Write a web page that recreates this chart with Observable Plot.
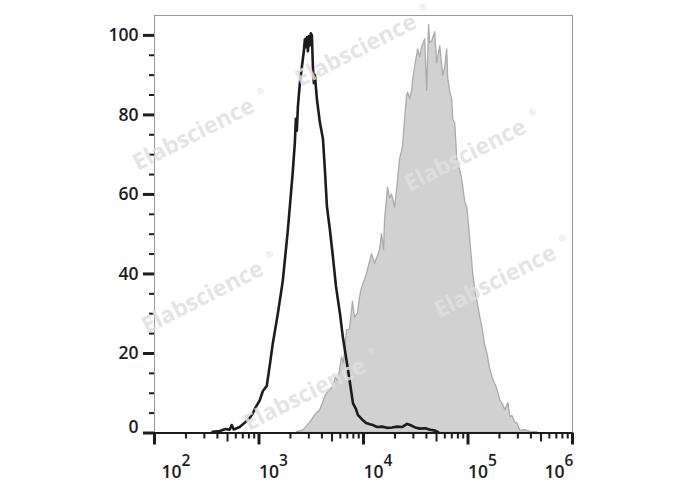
<!DOCTYPE html>
<html><head><meta charset="utf-8">
<script src="https://cdn.jsdelivr.net/npm/d3@7"></script>
<script src="https://cdn.jsdelivr.net/npm/@observablehq/plot@0.6"></script>
<style>body{margin:0;background:#fff;}</style>
</head><body><div id="chart"></div>
<script>
// Control (black outline) histogram: log10 fluorescence and % of max
const controlLog10 = [2.556,2.624,2.681,2.719,2.739,2.758,2.815,2.873,2.911,2.940,
  2.969,3.007,3.036,3.074,3.103,3.132,3.161,3.180,3.209,3.228,
  3.257,3.276,3.305,3.324,3.343,3.353,3.362,3.372,3.391,3.410,
  3.429,3.439,3.448,3.458,3.468,3.477,3.487,3.496,3.506,3.516,
  3.525,3.535,3.554,3.583,3.612,3.631,3.650,3.679,3.707,3.736,
  3.775,3.803,3.842,3.871,3.899,3.928,3.947,3.966,3.995,4.024,
  4.062,4.091,4.130,4.177,4.225,4.273,4.321,4.369,4.417,4.446,
  4.494,4.542,4.590,4.638,4.686,4.715];
const controlCount = [0.3,0.5,1.0,0.8,2.0,0.9,1.5,2.8,3.8,4.9,
  6.5,8.2,10.5,11.8,17,22.5,27,30,35,38.4,
  46,51,60,66,73,79,76,82,88,92,
  96,99,97,99.5,96,99.8,97.5,100.5,100,92,
  88,90,84,78,74,66,57,51,44.4,37,
  30,24,17.5,12.5,7.5,6,4.5,4,3.2,2.5,
  2.2,2,1.5,1.6,1.3,1.4,1.6,1.5,2.3,2.0,
  1.4,1.1,1.2,0.8,0.6,0.2];
// Stained sample (grey filled) histogram
const sampleLog10 = [3.362,3.420,3.458,3.496,3.525,3.554,3.583,3.612,3.640,3.669,
  3.707,3.736,3.755,3.775,3.794,3.813,3.842,3.871,3.899,3.918,
  3.947,3.966,3.986,4.014,4.034,4.062,4.082,4.110,4.139,4.158,
  4.177,4.197,4.206,4.235,4.254,4.273,4.302,4.321,4.350,4.379,
  4.398,4.417,4.427,4.446,4.465,4.475,4.494,4.523,4.542,4.561,
  4.590,4.609,4.628,4.638,4.657,4.686,4.705,4.734,4.763,4.782,
  4.801,4.811,4.830,4.849,4.859,4.878,4.897,4.926,4.945,4.974,
  4.993,5.022,5.050,5.070,5.089,5.118,5.137,5.165,5.185,5.213,
  5.242,5.281,5.309,5.338,5.357,5.386,5.405,5.424,5.453,5.472,
  5.501,5.549,5.597,5.664];
const sampleCount = [0.2,0.6,1.6,2.8,4,5,5.6,7.5,9.5,10.5,
  11.5,14,13,15.7,19,17.5,25.8,26,33,29,
  30,34,36.5,38.5,40,43,45,42.6,44.5,46,
  50,45.9,53.5,61.7,59,60,56.7,61,68.8,72,
  78.9,84.8,85.6,84,86,88.7,92,96.5,94.5,97,
  99,86,102.6,98,98.5,100.8,93,97.3,89.8,92,
  96.5,89,85.8,83.8,78.8,77.8,68.8,66,63.6,58,
  56.8,48.5,40,36,33.3,29,26.6,22,20,16,
  13.4,11,8.2,7,5.7,7.5,4,4.3,2.6,2.4,
  0.6,0.7,0.3,0.2];

const decades = [2, 3, 4, 5, 6];
const yMajor = [0, 20, 40, 60, 80, 100];
const yMinor = [5,10,15,25,30,35,45,50,55,65,70,75,85,90,95];
const minorMult = [2, 3, 4, 6, 7, 8, 9];
const midMult = [5];
const watermarkText = "Elabscience";
const watermarkLog10 = [2.374, 3.928, 4.974, 2.460, 5.261, 3.439];
const watermarkY = [75.1, 96.2, 69.8, 34.1, 38.1, 9.7];

const control = controlLog10.map((l, i) => ({x: 10 ** l, count: controlCount[i]}));
const sample = sampleLog10.map((l, i) => ({x: 10 ** l, count: sampleCount[i]}));
const watermarks = watermarkLog10.map((l, i) => ({x: 10 ** l, y: watermarkY[i]}));
const lowDecades = decades.slice(0, -1);
const xMinor = lowDecades.flatMap(d => minorMult.map(m => m * 10 ** d));
const xMid = lowDecades.flatMap(d => midMult.map(m => m * 10 ** d));
const xMajor = decades.map(d => 10 ** d);

const ink = "#1c1c1c";
const labelFont = {fontSize: 17.5, fontWeight: 600};

function decadeLabels(ds, dx) {
  return [
    Plot.text(ds, {x: d => 10 ** d, text: () => "10", frameAnchor: "bottom", lineAnchor: "bottom",
      textAnchor: "start", dx, dy: 44.5, fill: ink, ...labelFont}),
    Plot.text(ds, {x: d => 10 ** d, text: d => String(d), frameAnchor: "bottom", lineAnchor: "bottom",
      textAnchor: "start", dx: dx + 20, dy: 32.5, fill: ink, fontSize: 15.5, fontWeight: 600})
  ];
}

const chart = Plot.plot({
  width: 688, height: 490,
  marginLeft: 154, marginRight: 116, marginTop: 15, marginBottom: 57.5,
  x: {type: "log", domain: [1e2, 1e6]},
  y: {domain: [0, 105]},
  style: {fontFamily: "'Open Sans', sans-serif", background: "#fff", color: ink, overflow: "visible"},
  marks: [
    Plot.areaY(sample, {x: "x", y: "count", fill: "#d1d1d1", stroke: "#ababab", strokeWidth: 1.3}),
    Plot.line(control, {x: "x", y: "count", stroke: ink, strokeWidth: 2.6}),
    Plot.frame({stroke: "#9a9a9a", strokeWidth: 1}),
    Plot.ruleY([0], {stroke: ink, strokeWidth: 2}),
    // y axis
    Plot.axisY({ticks: yMajor.slice(1), tickSize: 11, tickPadding: 5, strokeWidth: 3, label: null,
      tickFormat: d => String(d), ...labelFont}),
    Plot.axisY({ticks: [0], tickSize: 11, strokeWidth: 3, label: null, tickFormat: () => ""}),
    Plot.axisY({ticks: [0], tickSize: 0, tickPadding: 16, label: null, dy: -6,
      tickFormat: d => String(d), ...labelFont}),
    Plot.axisY({ticks: yMinor, tickSize: 5, strokeWidth: 2, label: null, tickFormat: () => ""}),
    // x axis ticks
    Plot.axisX({ticks: xMajor, tickSize: 12, strokeWidth: 3, label: null, tickFormat: () => ""}),
    Plot.axisX({ticks: xMid, tickSize: 9, strokeWidth: 2, label: null, tickFormat: () => ""}),
    Plot.axisX({ticks: xMinor, tickSize: 6, strokeWidth: 2, label: null, tickFormat: () => ""}),
    ...decadeLabels(decades.slice(0, 1), 7),
    ...decadeLabels(decades.slice(1, 4), 0),
    ...decadeLabels(decades.slice(4), -28),
    // watermarks
    Plot.text(watermarks, {x: "x", y: "y", text: () => watermarkText, rotate: -27, fontSize: 23,
      fontWeight: 700, fill: "#e0e0e0", fillOpacity: 0.85}),
    Plot.text(watermarks, {x: "x", y: "y", text: () => "®", dx: 67, dy: -43, rotate: -27, fontSize: 9,
      fontWeight: 700, fill: "#e0e0e0", fillOpacity: 0.85})
  ]
});
document.getElementById("chart").appendChild(chart);
</script>
</body></html>
